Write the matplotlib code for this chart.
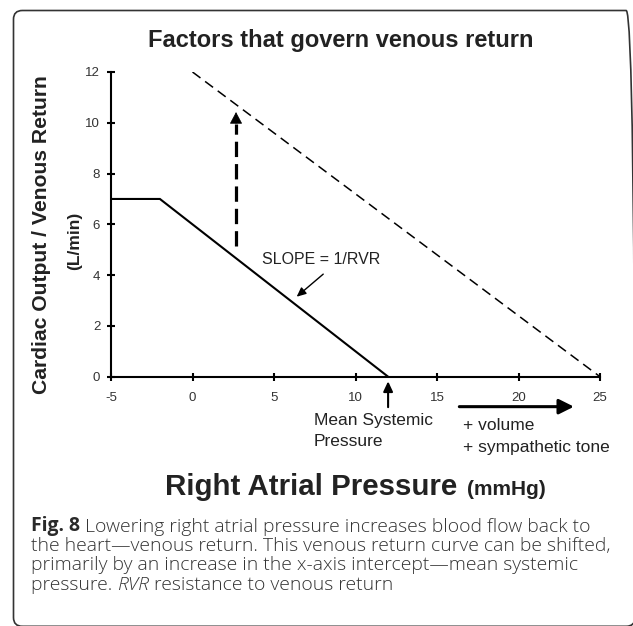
#!/usr/bin/env python3

import matplotlib
matplotlib.use('Agg')
import matplotlib.pyplot as plt
from matplotlib.patches import FancyBboxPatch

# venous return curves (right atrial pressure, mmHg -> L/min)
rap_normal = [-5, -2, 12]
vr_normal = [7, 7, 0]
rap_shifted = [0, 25]
vr_shifted = [12, 0]

x_ticks = [-5, 0, 5, 10, 15, 20, 25]
y_ticks = [0, 2, 4, 6, 8, 10, 12]

# upward shift arrow (x, from, to)
shift_x = 2.67
shift_from = 5.15
shift_to = 10.42

caption_lines = [
    'Lowering right atrial pressure increases blood flow back to',
    'the heart\u2014venous return. This venous return curve can be shifted,',
    'primarily by an increase in the x-axis intercept\u2014mean systemic',
    'pressure.',
]

SANS = 'Liberation Sans'
TXT = '#222222'

plt.rcParams['font.family'] = [SANS, 'DejaVu Sans']
plt.rcParams['axes.unicode_minus'] = False


def main():
    W, H = 633, 626
    fig = plt.figure(figsize=(W / 100, H / 100), dpi=100)
    ax = fig.add_axes([111 / W, 1 - 376.7 / H, (600 - 111) / W, (376.7 - 72) / H])

    ax.plot(rap_normal, vr_normal, color='black', lw=1.5, solid_joinstyle='miter')
    ax.plot(rap_shifted, vr_shifted, color='black', lw=1.1, dashes=(6.5, 3.8))

    # dashed shift arrow
    ax.plot([shift_x, shift_x], [shift_from, shift_to - 0.45], color='black',
            lw=2.3, dashes=(4.8, 2.2), dash_capstyle='butt')
    ax.annotate('', xy=(shift_x, shift_to), xytext=(shift_x, shift_to - 0.45),
                arrowprops=dict(arrowstyle='-|>,head_length=0.75,head_width=0.4',
                                color='black', lw=0.5, shrinkA=0, shrinkB=0))

    # slope label
    ax.text(4.26, 4.6, 'SLOPE = 1/RVR', fontsize=11.5, color=TXT,
            ha='left', va='center')
    ax.annotate('', xy=(6.39, 3.15), xytext=(8.02, 4.04),
                arrowprops=dict(arrowstyle='-|>,head_length=0.55,head_width=0.25',
                                color='black', lw=1.0, shrinkA=0, shrinkB=0))

    # mean systemic pressure marker
    msp = rap_normal[-1]
    ax.annotate('', xy=(msp, -0.18), xytext=(msp, -1.2), annotation_clip=False,
                arrowprops=dict(arrowstyle='-|>,head_length=0.6,head_width=0.28',
                                color='black', lw=1.5, shrinkA=0, shrinkB=0))
    ax.text(7.45, -1.90, 'Mean Systemic', fontsize=12.5, color=TXT,
            ha='left', va='baseline', clip_on=False)
    ax.text(7.45, -2.73, 'Pressure', fontsize=12.5, color=TXT,
            ha='left', va='baseline', clip_on=False)

    # shift to the right
    ax.annotate('', xy=(23.4, -1.18), xytext=(16.37, -1.18), annotation_clip=False,
                arrowprops=dict(arrowstyle='-|>,head_length=0.9,head_width=0.45',
                                color='black', lw=2.2, shrinkA=0, shrinkB=0))
    ax.text(16.6, -2.10, '+ volume', fontsize=12.5, color=TXT,
            ha='left', va='baseline', clip_on=False)
    ax.text(16.6, -2.95, '+ sympathetic tone', fontsize=12.5, color=TXT,
            ha='left', va='baseline', clip_on=False)

    ax.set_xlim(-5, 25)
    ax.set_ylim(0, 12)
    ax.set_xticks(x_ticks)
    ax.set_yticks(y_ticks)
    for s in ['top', 'right']:
        ax.spines[s].set_visible(False)
    for s in ['left', 'bottom']:
        ax.spines[s].set_linewidth(1.5)
    ax.tick_params(axis='both', direction='inout', length=5.5, width=1.5,
                   labelsize=9.5, labelcolor='#333333')
    ax.tick_params(axis='x', pad=8.5)
    ax.tick_params(axis='y', pad=5)

    # titles and axis labels
    fig.text(341 / W, 1 - 40 / H, 'Factors that govern venous return', fontsize=17,
             weight='bold', color=TXT, ha='center', va='center')
    fig.text(42 / W, 1 - 235 / H, 'Cardiac Output / Venous Return', fontsize=15.2,
             weight='bold', color=TXT, rotation=90, ha='center', va='center')
    fig.text(75 / W, 1 - 241 / H, '(L/min)', fontsize=12.5, weight='bold',
             color=TXT, rotation=90, ha='center', va='center')

    fig.canvas.draw()
    r = fig.canvas.get_renderer()

    t = fig.text(165 / W, 1 - 495 / H, 'Right Atrial Pressure', fontsize=20,
                 weight='bold', color=TXT, ha='left', va='baseline')
    w = t.get_window_extent(r).width
    t.set_fontsize(20 * 291.7 / w)
    x1 = t.get_window_extent(r).x1
    fig.text((x1 + 10) / W, 1 - 495 / H, '(mmHg)', fontsize=15, weight='bold',
             color=TXT, ha='left', va='baseline')

    # caption
    cap_font = ['Open Sans', 'DejaVu Sans']
    cap_color = '#333333'
    cap_w = 'light'
    base = [531.5, 551, 570.5, 590]
    left = 30.7 / W
    t0 = fig.text(left, 1 - base[0] / H, 'Fig. 8 ', fontsize=12, weight='bold',
                  family=cap_font, color='#2a2a2a', va='baseline')
    t1 = fig.text(0, 1 - base[0] / H, caption_lines[0], fontsize=12, weight=cap_w,
                  family=cap_font, color=cap_color, va='baseline')
    w = t0.get_window_extent(r).width + t1.get_window_extent(r).width
    cap_size = 12 * (590 - 30.7) / w
    t0.set_fontsize(cap_size)
    t1.set_fontsize(cap_size)
    t1.set_x(t0.get_window_extent(r).x1 / W)
    for i in (1, 2):
        fig.text(left, 1 - base[i] / H, caption_lines[i], fontsize=cap_size,
                 weight=cap_w, family=cap_font, color=cap_color, va='baseline')
    t = fig.text(left, 1 - base[3] / H, caption_lines[3] + ' ', fontsize=cap_size,
                 weight=cap_w, family=cap_font, color=cap_color, va='baseline')
    x1 = t.get_window_extent(r).x1 / W
    t = fig.text(x1, 1 - base[3] / H, 'RVR', fontsize=cap_size, style='italic',
                 weight=cap_w, family=cap_font, color=cap_color, va='baseline')
    x1 = t.get_window_extent(r).x1 / W
    fig.text(x1, 1 - base[3] / H, ' resistance to venous return', fontsize=cap_size,
             weight=cap_w, family=cap_font, color=cap_color, va='baseline')

    # frame round the figure
    frame = FancyBboxPatch((13.5 / W, -0.3 / H), (621.5 / W), (615.8 / H),
                           boxstyle='round,pad=0,rounding_size=0.014',
                           transform=fig.transFigure, fill=False,
                           edgecolor='#333333', lw=1.2)
    fig.patches.append(frame)

    plt.savefig('out.png', dpi=100)


if __name__ == "__main__":
    main()
